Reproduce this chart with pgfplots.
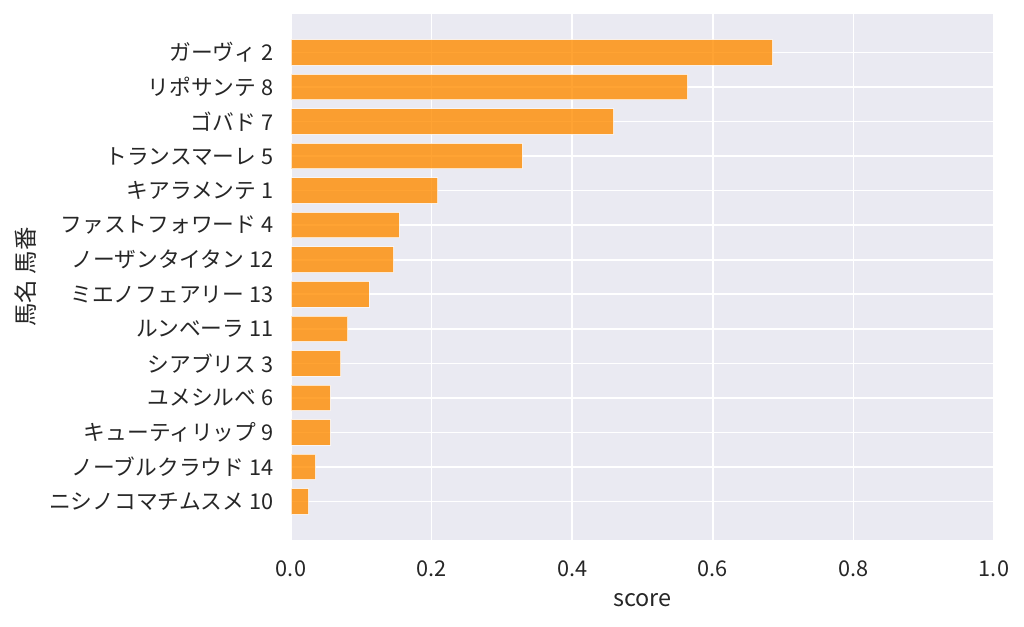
\documentclass[border=0pt]{standalone}
\usepackage{fontspec}
\setmainfont{Noto Sans CJK JP}
\usepackage{pgfplots}
\pgfplotsset{compat=1.18}
\definecolor{bg}{HTML}{EAEAF2}
\definecolor{barc}{RGB}{255,140,0}
\definecolor{txt}{RGB}{38,38,38}
\begin{document}
\begin{tikzpicture}[x=1bp,y=1bp]
\useasboundingbox (0,0) rectangle (1024,627);
\begin{axis}[
  at={(291bp,87bp)}, anchor=south west,
  width=703bp, height=526bp, scale only axis,
  xmin=0, xmax=1, ymin=-1.115, ymax=14.115, y dir=reverse,
  axis background/.style={fill=bg},
  axis line style={draw=none},
  grid=major, major grid style={white, line width=1.6bp},
  tick style={draw=none},
  xtick={0,0.2,0.4,0.6,0.8,1.0},
  ytick={0,...,13},
  yticklabels={ガーヴィ 2,リポサンテ 8,ゴバド 7,トランスマーレ 5,キアラメンテ 1,ファストフォワード 4,ノーザンタイタン 12,ミエノフェアリー 13,ルンベーラ 11,シアブリス 3,ユメシルベ 6,キューティリップ 9,ノーブルクラウド 14,ニシノコマチムスメ 10},
  /pgf/number format/assume math mode=true,
  xticklabel style={/pgf/number format/fixed, /pgf/number format/fixed zerofill, /pgf/number format/precision=1, yshift=-17bp},
  yticklabel style={xshift=-10bp},
  ticklabel style={font=\fontsize{21.8}{25}\selectfont, text=txt},
  xlabel={score}, ylabel={馬名 馬番},
  every axis x label/.style={at={(axis description cs:0.5,-0.114)}, anchor=center, font=\fontsize{23.5}{27}\selectfont, text=txt},
  every axis y label/.style={at={(axis description cs:-0.378,0.5)}, rotate=90, anchor=center, font=\fontsize{23.5}{27}\selectfont, text=txt},
  xbar, bar width=0.74,
]
\addplot[fill=barc, fill opacity=0.8, draw=white, draw opacity=0.7, line width=1bp] table[x=score, y=pos] {
pos score
0 0.685
1 0.564
2 0.459
3 0.329
4 0.209
5 0.154
6 0.146
7 0.111
8 0.081
9 0.071
10 0.056
11 0.056
12 0.035
13 0.025
};
\end{axis}
\end{tikzpicture}
\end{document}
